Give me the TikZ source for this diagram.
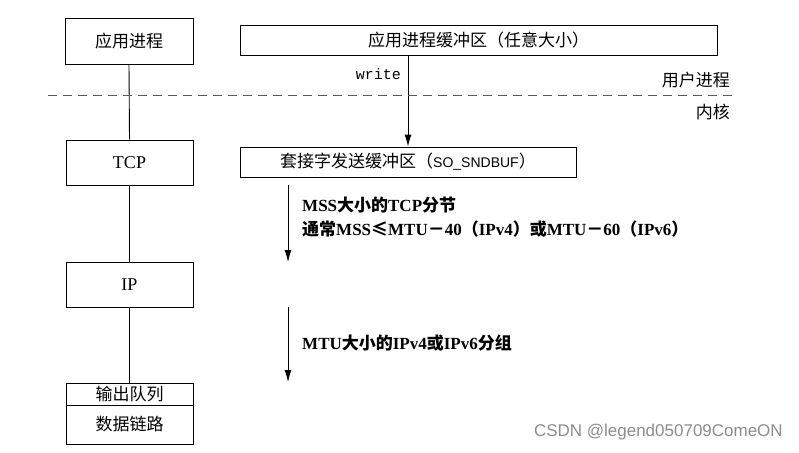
\documentclass[tikz,border=0pt]{standalone}
\usepackage{fontspec}
\setmainfont{Liberation Serif}
\newfontfamily\cjk{Noto Sans CJK SC}
\newfontfamily\monof{Liberation Mono}
\newfontfamily\sansf{Liberation Sans}
\usetikzlibrary{arrows.meta}
\begin{document}
\begin{tikzpicture}[x=1pt,y=-1pt,
  box/.style={draw,line width=0.9pt,rectangle,inner sep=0pt,font=\fontsize{17pt}{19pt}\selectfont},
  latin/.style={font=\fontsize{18pt}{20pt}\selectfont},
  txt/.style={inner sep=0pt,font=\fontsize{17pt}{19pt}\selectfont},
  lbl/.style={inner sep=0pt,anchor=west,font=\fontsize{17pt}{19pt}\selectfont\bfseries},
  link/.style={line width=0.9pt},
  arr/.style={line width=0.9pt,-{Latex[length=12pt,width=7pt]}},
  sep/.style={line width=0.9pt,dash pattern=on 9pt off 6pt,draw=black!65}]
\useasboundingbox (0,0) rectangle (799,452);

% left column
\node[box,minimum width=128pt,minimum height=46pt] (app) at (129,41) {\cjk 应用进程};
\node[box,latin,minimum width=127pt,minimum height=45pt] (tcp) at (129.5,162.5) {TCP};
\node[box,latin,minimum width=127pt,minimum height=45pt] (ip) at (129.5,284.5) {IP};
\node[box,minimum width=127pt,minimum height=22pt] (outq) at (129.5,394) {\cjk 输出队列};
\node[box,minimum width=127pt,minimum height=39pt] (dl) at (129.5,424.5) {\cjk 数据链路};

\draw[link] (app.south) -- (tcp.north);
\draw[link] (tcp.south) -- (ip.north);
\draw[link] (ip.south) -- (outq.north);

% buffers
\node[box,minimum width=477pt,minimum height=30pt] (buf) at (478.5,40) {\cjk 应用进程缓冲区（任意大小）};
\node[box,minimum width=336pt,minimum height=30pt] (sock) at (408,162) {{\cjk 套接字发送缓冲区（}{\sansf\fontsize{14pt}{16pt}\selectfont SO\_SNDBUF}{\cjk ）}};

\draw[arr] (buf.south -| sock.north) -- (sock.north);
\node[txt,anchor=east,font=\fontsize{15pt}{17pt}\monof] (write) at (401,74) {write};

% user / kernel separator
\coordinate (sepL) at (48,95);
\coordinate (sepR) at (733,95);
\draw[sep] (sepL) -- (sepR);
\node[txt,anchor=east] (user) at (730,80) {\cjk 用户进程};
\node[txt,anchor=east] (kern) at (730,112) {\cjk 内核};

% segment arrows
\coordinate (a2s) at (288,185);
\coordinate (a2e) at (288,262);
\draw[arr] (a2s) -- (a2e);
\node[lbl] (mss1) at (302,205) {MSS{\cjk 大小的}TCP{\cjk 分节}};
\node[lbl] (mss2) at (302,229) {{\cjk 通常}MSS{\cjk ≤}MTU{\cjk －}40{\cjk （}IPv4{\cjk ）或}MTU{\cjk －}60{\cjk （}IPv6{\cjk ）}};

\coordinate (a3s) at (288,307);
\coordinate (a3e) at (288,382);
\draw[arr] (a3s) -- (a3e);
\node[lbl] (mtu) at (302,343) {MTU{\cjk 大小的}IPv4{\cjk 或}IPv6{\cjk 分组}};

% watermark
\node[txt,anchor=east,text=black!45,font=\fontsize{17pt}{19pt}\sansf] (wm) at (783,432) {CSDN @legend050709ComeON};
\end{tikzpicture}
\end{document}
